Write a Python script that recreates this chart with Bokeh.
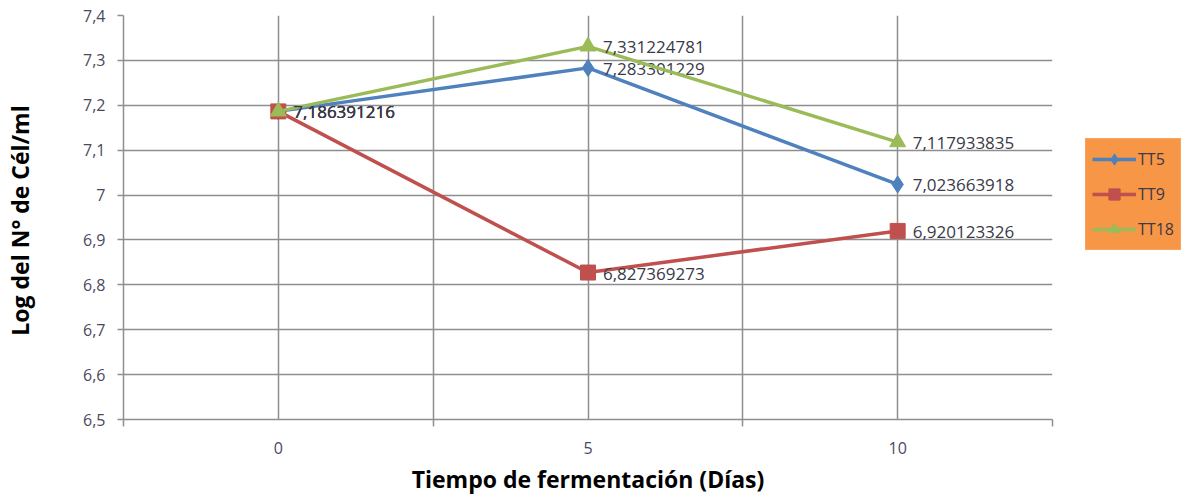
from bokeh.plotting import figure
from bokeh.layouts import row
from bokeh.models import (ColumnDataSource, Range1d, FixedTicker, Legend, LegendItem)
from bokeh.core.properties import value
from bokeh.embed import file_html
from bokeh.resources import INLINE

# ---- data ----
days = [0, 5, 10]
day_labels = ["0", "5", "10"]
tt5 = [7.186391216, 7.283301229, 7.023663918]
tt9 = [7.186391216, 6.827369273, 6.920123326]
tt18 = [7.186391216, 7.331224781, 7.117933835]
series_names = ["TT5", "TT9", "TT18"]
y_ticks = [6.5, 6.6, 6.7, 6.8, 6.9, 7.0, 7.1, 7.2, 7.3, 7.4]
y_tick_labels = ["6,5", "6,6", "6,7", "6,8", "6,9", "7", "7,1", "7,2", "7,3", "7,4"]
x_boundaries = [-2.5, 2.5, 7.5, 12.5]

FONT = "Open Sans"
GRID = "#8e8e8e"
H = 497

p = figure(width=1060, height=H, output_backend="svg", toolbar_location=None,
           x_range=Range1d(-2.5, 12.5), y_range=Range1d(6.5, 7.4),
           min_border_left=123, min_border_right=8, min_border_top=15,
           min_border_bottom=H - 421)
p.outline_line_color = None
p.background_fill_color = "white"

# y axis
p.yaxis.ticker = FixedTicker(ticks=y_ticks)
p.yaxis.major_label_overrides = {t: l for t, l in zip(y_ticks, y_tick_labels)}
p.yaxis.major_tick_out = 6
p.yaxis.major_tick_in = 0
p.yaxis.minor_tick_line_color = None
p.yaxis.axis_line_color = GRID
p.yaxis.axis_line_width = 1.5
p.yaxis.major_tick_line_color = GRID
p.yaxis.major_tick_line_width = 1.5
p.yaxis.major_label_standoff = 12
p.yaxis.major_label_text_font = FONT
p.yaxis.major_label_text_font_size = "16px"
p.yaxis.major_label_text_color = "#4a4a5c"
p.yaxis.axis_label = "Log del  N° de Cél/ml"
p.yaxis.axis_label_text_font = FONT
p.yaxis.axis_label_text_font_style = "bold"
p.yaxis.axis_label_text_font_size = "23px"
p.yaxis.axis_label_text_color = "black"
p.yaxis.axis_label_standoff = 44

# x axis
p.xaxis.ticker = FixedTicker(ticks=days, minor_ticks=x_boundaries)
p.xaxis.major_label_overrides = {d: l for d, l in zip(days, day_labels)}
p.xaxis.major_tick_line_color = None
p.xaxis.major_tick_out = 0
p.xaxis.major_tick_in = 0
p.xaxis.minor_tick_out = 7
p.xaxis.minor_tick_in = 0
p.xaxis.minor_tick_line_color = GRID
p.xaxis.minor_tick_line_width = 1.5
p.xaxis.axis_line_color = GRID
p.xaxis.axis_line_width = 1.5
p.xaxis.major_label_standoff = 15
p.xaxis.major_label_text_font = FONT
p.xaxis.major_label_text_font_size = "16px"
p.xaxis.major_label_text_color = "#4a4a5c"
p.xaxis.axis_label = "Tiempo de fermentación (Días)"
p.xaxis.axis_label_text_font = FONT
p.xaxis.axis_label_text_font_style = "bold"
p.xaxis.axis_label_text_font_size = "23px"
p.xaxis.axis_label_text_color = "black"
p.xaxis.axis_label_standoff = 6

# grids
p.xgrid.grid_line_color = GRID
p.xgrid.grid_line_width = 1.5
p.xgrid.minor_grid_line_color = GRID
p.xgrid.minor_grid_line_width = 1.5
p.ygrid.grid_line_color = GRID
p.ygrid.grid_line_width = 1.5

colors = ["#4F81BD", "#C0504D", "#9BBB59"]
all_vals = [tt5, tt9, tt18]
markers = ["diamond", "square", "triangle"]
msizes = [17, 15, 16]

# legend panel (separate figure so the legend can sit outside the plot frame;
# its ranges are set so that the series themselves are out of view there)
pl = figure(width=132, height=H, output_backend="svg", toolbar_location=None,
            x_range=Range1d(100, 101), y_range=Range1d(100, 101),
            min_border=0, x_axis_type=None, y_axis_type=None)
pl.outline_line_color = None
pl.grid.visible = False

items = []
for name, vals, c, m, s in zip(series_names, all_vals, colors, markers, msizes):
    src = ColumnDataSource(dict(x=days, y=vals,
                                lab=[f"{v:.9f}".replace(".", ",") for v in vals]))
    p.line("x", "y", source=src, line_color=c, line_width=3.5)
    p.scatter("x", "y", source=src, marker=m, size=s, fill_color=c, line_color=c)
    p.text("x", "y", text="lab", source=src, x_offset=15, y_offset=1,
           text_baseline="middle", text_align="left",
           text_font=value(FONT), text_font_size="17px", text_color="#3a3a48")
    l_line = pl.line("x", "y", source=src, line_color=c, line_width=3.5)
    l_mark = pl.scatter("x", "y", source=src, marker=m, size=s,
                        fill_color=c, line_color=c)
    items.append(LegendItem(label=name, renderers=[l_line, l_mark]))

legend = Legend(items=items, location=(25, H - 250 - 78), orientation="vertical")
legend.background_fill_color = "#F79646"
legend.background_fill_alpha = 1.0
legend.border_line_color = "#F9B27A"
legend.border_line_width = 1
legend.label_text_font = FONT
legend.label_text_font_size = "16px"
legend.label_text_color = "#3a3a48"
legend.glyph_width = 44
legend.glyph_height = 28
legend.label_standoff = 2
legend.label_height = 27
legend.spacing = 7
legend.padding = 6
legend.margin = 0
pl.add_layout(legend, "center")

layout = row(p, pl)
open("out.html", "w").write(file_html(layout, INLINE))
